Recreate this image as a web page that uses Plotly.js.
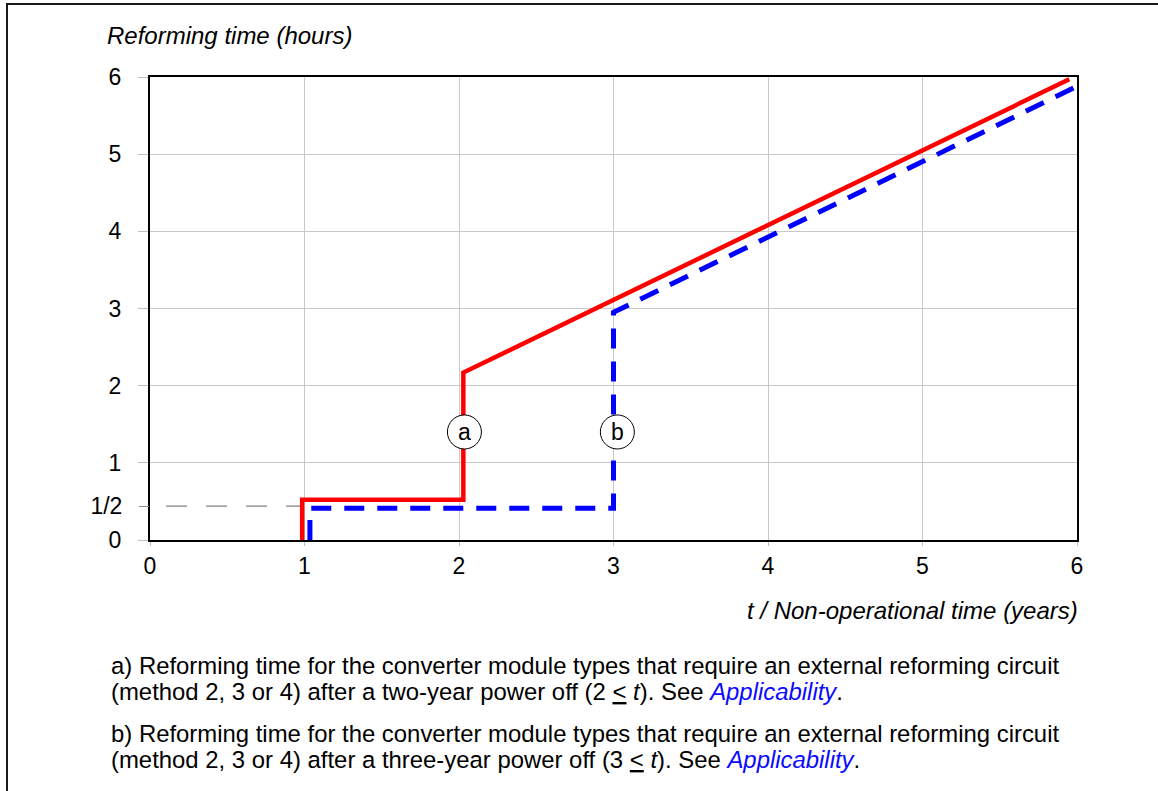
<!DOCTYPE html>
<html>
<head>
<meta charset="utf-8">
<script src="https://cdn.plot.ly/plotly-3.0.1.min.js"></script>
<style>
  html, body { margin: 0; padding: 0; background: #fff; }
  #wrap { position: relative; width: 1158px; height: 791px; overflow: hidden; }
  #chart { position: absolute; left: 0; top: 0; width: 1158px; height: 791px; }
  #frame { position: absolute; left: 6px; top: 3px; width: 1300px; height: 900px;
           border-top: 2px solid #1a1a1a; border-left: 2px solid #1a1a1a; pointer-events: none; }
</style>
</head>
<body>
<div id="wrap">
  <div id="chart"></div>
  <div id="frame"></div>
</div>
<script>
// ---- data ----
const redX  = [0.985, 0.985, 2.028, 2.028, 5.95];
const redY  = [-0.05, 0.52, 0.52, 2.17, 5.97];
const blueX = [1.035, 1.035, 3.0, 3.0, 6.0];
const blueY = [0.0, 0.41, 0.41, 2.95, 5.88];
const halfX = [0.0, 0.98];
const halfY = [0.44, 0.44];

const xTickVals = [0, 1, 2, 3, 4, 5, 6];
const xTickText = ['0', '1', '2', '3', '4', '5', '6'];
const yTickVals = [0, 1, 2, 3, 4, 5, 6];
const yTickText = ['0', '1', '2', '3', '4', '5', '6'];
const yHalfVals = [0.44];
const yHalfText = ['1/2'];

const labelNames = ['a', 'b'];
const labelX = [2.035, 3.025];
const labelY = [1.40, 1.40];

const yTitle = 'Reforming time (hours)';
const xTitle = 't / Non-operational time (years)';
const captions = [
  'a) Reforming time for the converter module types that require an external reforming circuit',
  '(method 2, 3 or 4) after a two-year power off (2 <u>&lt;</u> <i>t</i>). See <i><span style="color:#0a0aff">Applicability</span></i>.',
  'b) Reforming time for the converter module types that require an external reforming circuit',
  '(method 2, 3 or 4) after a three-year power off (3 <u>&lt;</u> <i>t</i>). See <i><span style="color:#0a0aff">Applicability</span></i>.'
];
const captionY = [-0.272, -0.328, -0.417, -0.475];

// ---- chart ----
const FONT = 'Liberation Sans, Arial, sans-serif';
const TICK_SIZE = 23;

const traces = [
  { x: halfX, y: halfY, mode: 'lines', hoverinfo: 'skip',
    line: { color: '#808080', width: 1.2, dash: '0px,16px,21px,3px' } },
  { x: blueX, y: blueY, mode: 'lines', hoverinfo: 'skip',
    line: { color: '#0000ff', width: 5, dash: '20px,13px' } },
  { x: redX, y: redY, mode: 'lines', hoverinfo: 'skip',
    line: { color: '#ff0000', width: 4.5 } },
  { x: [0], y: [yHalfVals[0]], yaxis: 'y2', mode: 'markers', hoverinfo: 'skip',
    marker: { opacity: 0 } }
];

const shapes = labelNames.map((n, i) => ({
  type: 'circle', xref: 'x', yref: 'y', xsizemode: 'pixel', ysizemode: 'pixel',
  xanchor: labelX[i], yanchor: labelY[i], x0: -17, x1: 17, y0: -17, y1: 17,
  fillcolor: '#ffffff', line: { color: '#000000', width: 1 }, layer: 'above'
}));

const annotations = labelNames.map((n, i) => ({
  x: labelX[i], y: labelY[i], xref: 'x', yref: 'y', text: n, showarrow: false,
  font: { family: FONT, size: 23, color: '#000' }, xanchor: 'center', yanchor: 'middle'
}));

annotations.push({
  xref: 'paper', yref: 'paper', x: -0.0485, y: 1.0907, xanchor: 'left', yanchor: 'middle',
  text: '<i>' + yTitle + '</i>', showarrow: false, font: { family: FONT, size: 24, color: '#000' }
});
annotations.push({
  xref: 'paper', yref: 'paper', x: 1.0032, y: -0.1533, xanchor: 'right', yanchor: 'middle',
  text: '<i>' + xTitle + '</i>', showarrow: false, font: { family: FONT, size: 24, color: '#000' }
});
captions.forEach((c, i) => {
  annotations.push({
    xref: 'paper', yref: 'paper', x: -0.0442, y: captionY[i], xanchor: 'left', yanchor: 'middle',
    align: 'left', text: c, showarrow: false, font: { family: FONT, size: 23.9, color: '#000' }
  });
});

const layout = {
  width: 1158, height: 791,
  margin: { l: 150, r: 81, t: 77, b: 251, pad: 0 },
  paper_bgcolor: '#ffffff', plot_bgcolor: '#ffffff',
  showlegend: false,
  font: { family: FONT, size: TICK_SIZE, color: '#000' },
  xaxis: {
    range: [0, 6], tickvals: xTickVals, ticktext: xTickText,
    showgrid: true, gridcolor: '#c8c8c8', gridwidth: 1, zeroline: false,
    showline: true, linecolor: '#000', linewidth: 2, mirror: true,
    ticks: 'outside', ticklen: 4, tickcolor: '#c0c0c0', tickwidth: 1,
    ticklabelstandoff: 0,
    tickfont: { family: FONT, size: TICK_SIZE, color: '#000' }, fixedrange: true
  },
  yaxis: {
    range: [0, 6], tickvals: yTickVals, ticktext: yTickText,
    showgrid: true, gridcolor: '#c8c8c8', gridwidth: 1, zeroline: false,
    showline: true, linecolor: '#000', linewidth: 2, mirror: true,
    ticks: 'outside', ticklen: 10, tickcolor: '#c0c0c0', tickwidth: 1,
    ticklabelstandoff: 12,
    tickfont: { family: FONT, size: TICK_SIZE, color: '#000' }, fixedrange: true
  },
  yaxis2: {
    overlaying: 'y', side: 'left', range: [0, 6],
    tickvals: yHalfVals, ticktext: yHalfText,
    showgrid: false, zeroline: false, showline: false,
    ticks: 'outside', ticklen: 10, tickcolor: '#909090', tickwidth: 1,
    ticklabelstandoff: 12,
    tickfont: { family: FONT, size: TICK_SIZE, color: '#000' }, fixedrange: true
  },
  shapes: shapes,
  annotations: annotations
};

Plotly.newPlot('chart', traces, layout, { staticPlot: true, displayModeBar: false });
</script>
</body>
</html>
